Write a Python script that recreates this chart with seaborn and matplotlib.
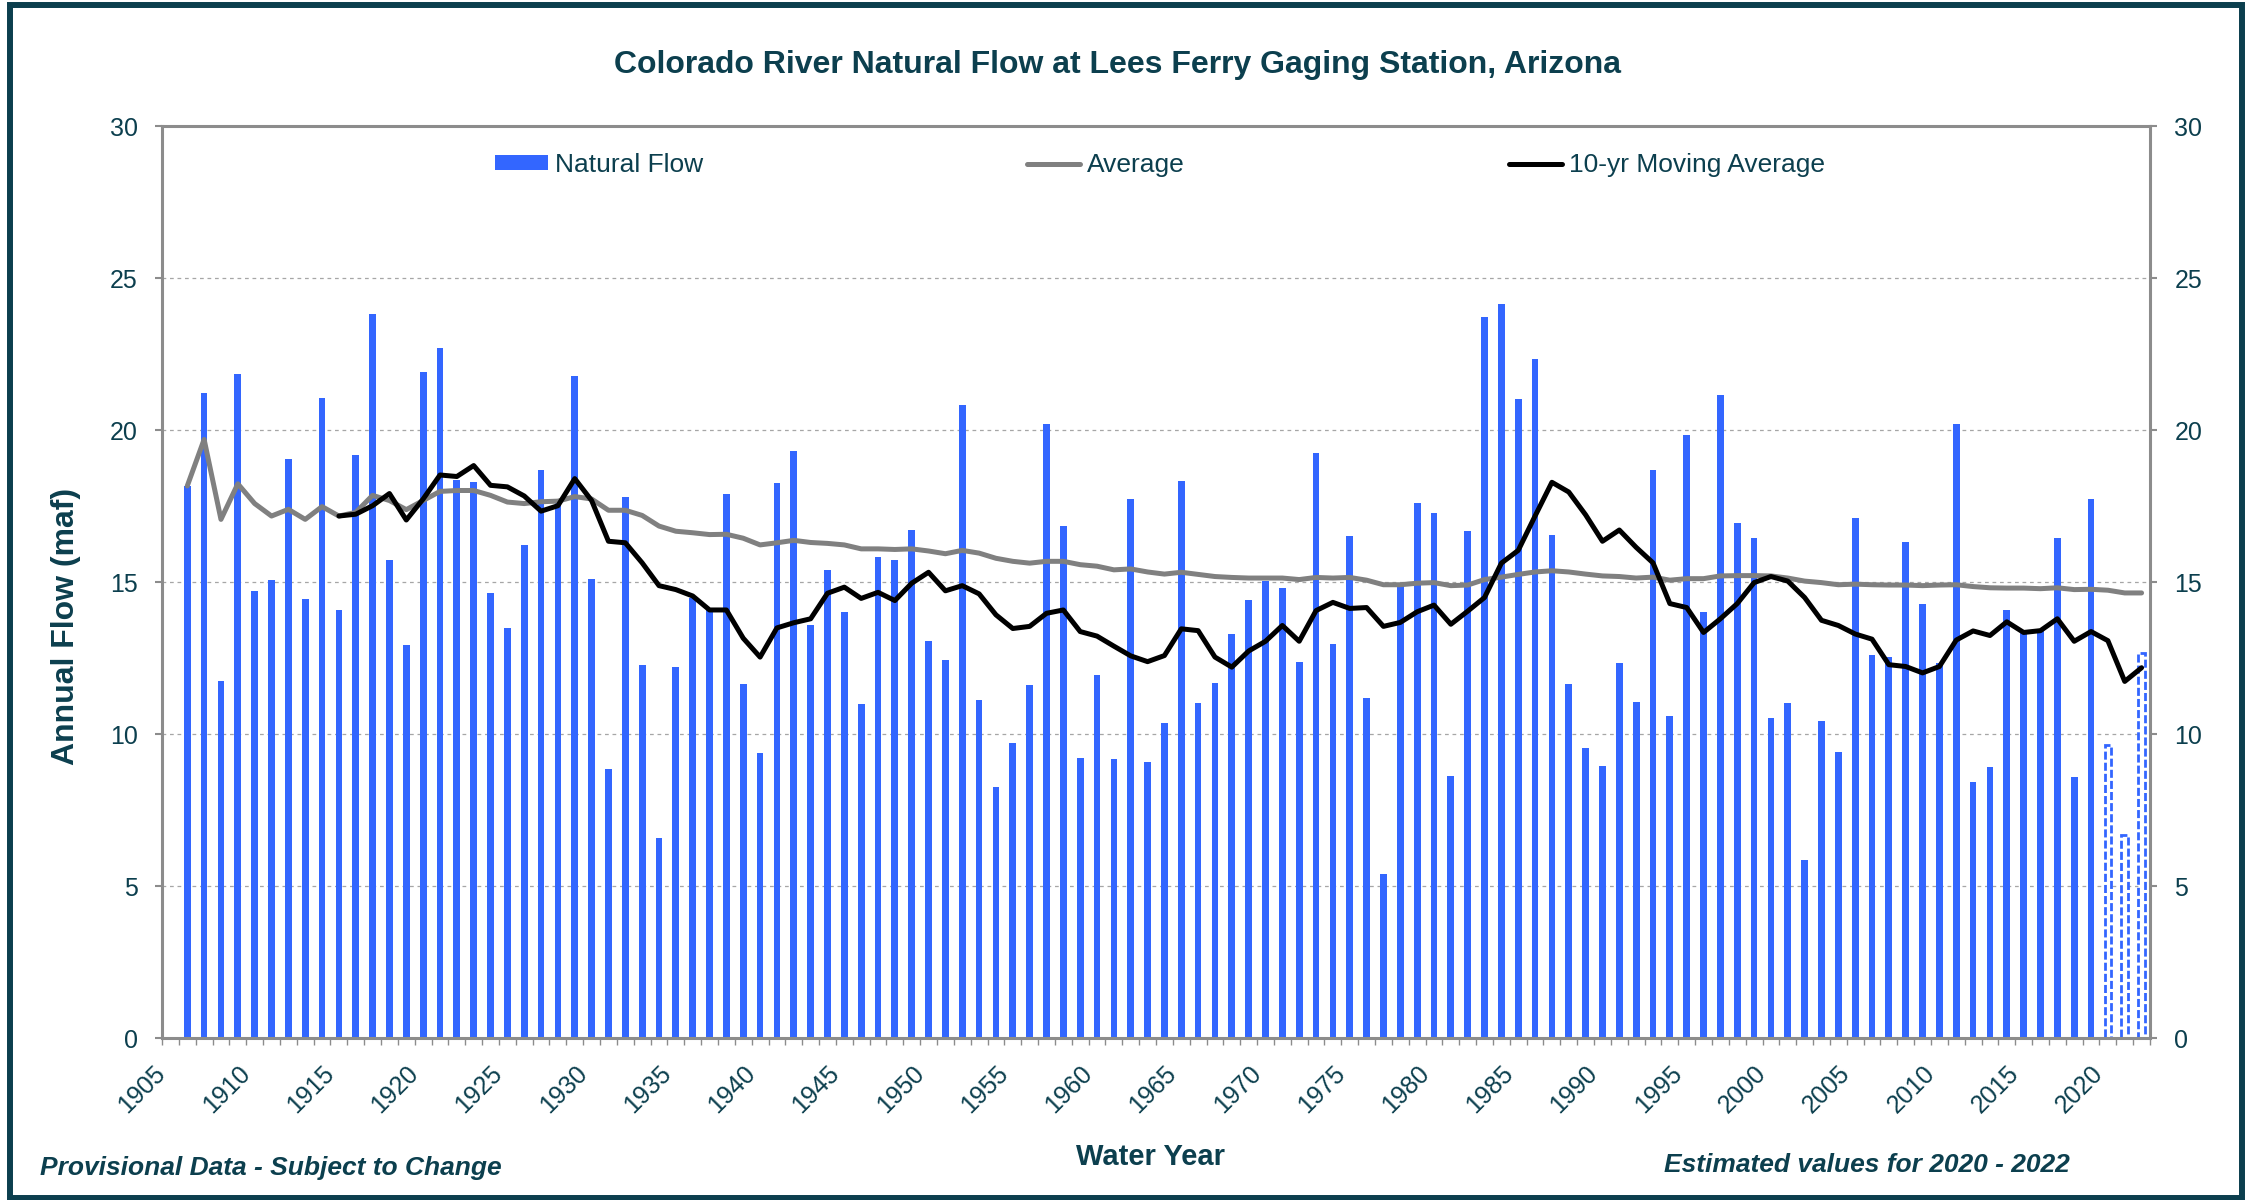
import numpy as np
import pandas as pd
import seaborn as sns
import matplotlib.pyplot as plt
from matplotlib.patches import Rectangle, Patch
from matplotlib.lines import Line2D
from matplotlib.ticker import FixedLocator

# annual natural flow (maf), water years 1906-2022
years = list(range(1906, 2023))
natural_flow = [
    18.16, 21.21, 11.73, 21.83, 14.71, 15.08, 19.05, 14.44, 21.05, 14.09,  # 1906-1915
    19.17, 23.83, 15.72, 12.94, 21.90, 22.69, 18.35, 18.30, 14.63, 13.49,  # 1916-1925
    16.22, 18.67, 17.73, 21.78, 15.10, 8.85, 17.78, 12.28, 6.57, 12.22,    # 1926-1935
    14.49, 14.07, 17.90, 11.66, 9.38, 18.25, 19.30, 13.59, 15.40, 14.01,   # 1936-1945
    10.98, 15.82, 15.73, 16.71, 13.07, 12.42, 20.83, 11.13, 8.26, 9.69,    # 1946-1955
    11.60, 20.19, 16.84, 9.20, 11.95, 9.17, 17.73, 9.08, 10.36, 18.31,     # 1956-1965
    11.03, 11.68, 13.30, 14.41, 15.03, 14.81, 12.37, 19.24, 12.95, 16.52,  # 1966-1975
    11.18, 5.41, 14.90, 17.59, 17.26, 8.61, 16.69, 23.71, 24.16, 21.03,    # 1976-1985
    22.34, 16.56, 11.63, 9.53, 8.95, 12.32, 11.04, 18.67, 10.59, 19.84,    # 1986-1995
    14.01, 21.16, 16.94, 16.44, 10.52, 11.01, 5.85, 10.44, 9.42, 17.11,    # 1996-2005
    12.60, 12.53, 16.30, 14.29, 12.33, 20.21, 8.41, 8.93, 14.09, 13.32,    # 2006-2015
    13.40, 16.45, 8.58, 17.74, 9.63, 6.67, 12.67,                          # 2016-2022
]
average = [
    18.16, 19.69, 17.06, 18.23, 17.58, 17.17, 17.39, 17.06, 17.48, 17.17,
    17.29, 17.85, 17.68, 17.38, 17.68, 17.98, 18.01, 18.01, 17.85, 17.63,
    17.58, 17.64, 17.66, 17.81, 17.73, 17.36, 17.36, 17.19, 16.84, 16.67,
    16.62, 16.56, 16.57, 16.44, 16.22, 16.29, 16.37, 16.30, 16.27, 16.22,
    16.09, 16.09, 16.07, 16.09, 16.02, 15.93, 16.04, 15.95, 15.78, 15.68,
    15.62, 15.68, 15.68, 15.57, 15.52, 15.40, 15.43, 15.33, 15.26, 15.32,
    15.25, 15.18, 15.15, 15.13, 15.13, 15.13, 15.08, 15.15, 15.13, 15.15,
    15.06, 14.91, 14.91, 14.96, 14.98, 14.88, 14.90, 15.08, 15.16, 15.25,
    15.33, 15.37, 15.33, 15.26, 15.20, 15.18, 15.13, 15.16, 15.06, 15.11,
    15.11, 15.20, 15.21, 15.21, 15.20, 15.13, 15.03, 14.98, 14.91, 14.93,
    14.91, 14.90, 14.90, 14.88, 14.90, 14.91, 14.85, 14.81, 14.80, 14.80,
    14.78, 14.81, 14.75, 14.76, 14.73, 14.64, 14.64,
]
moving_years = list(range(1915, 2023))
moving_avg = [
    17.17, 17.23, 17.51, 17.91, 17.04, 17.73, 18.52, 18.47, 18.83, 18.18,  # 1915-1924
    18.13, 17.83, 17.33, 17.51, 18.40, 17.68, 16.34, 16.29, 15.63, 14.88,
    14.75, 14.54, 14.08, 14.08, 13.15, 12.53, 13.49, 13.66, 13.79, 14.63,
    14.83, 14.46, 14.66, 14.39, 14.96, 15.32, 14.71, 14.88, 14.61, 13.92,
    13.47, 13.54, 13.97, 14.08, 13.37, 13.22, 12.89, 12.57, 12.38, 12.58,
    13.46, 13.40, 12.53, 12.20, 12.73, 13.05, 13.57, 13.05, 14.06, 14.33,
    14.13, 14.16, 13.54, 13.67, 14.02, 14.24, 13.61, 14.04, 14.49, 15.62,
    16.04, 17.17, 18.28, 17.96, 17.21, 16.34, 16.71, 16.14, 15.63, 14.29,
    14.16, 13.34, 13.79, 14.29, 14.98, 15.18, 15.03, 14.49, 13.74, 13.57,
    13.29, 13.12, 12.28, 12.22, 12.01, 12.22, 13.09, 13.39, 13.24, 13.69,
    13.34, 13.40, 13.79, 13.05, 13.37, 13.07, 11.73, 12.18,                # 2015-2022
]
estimated_years = [2020, 2021, 2022]
tick_years = list(range(1905, 2021, 5))

TEAL = '#0c3f4e'
BLUE = '#3366ff'
AXIS = '#8c8c8c'
GRID = '#a6a6a6'
W, H = 2246, 1200
LW = 3.6

sns.set_theme(style='white')
plt.rcParams['font.family'] = ['Liberation Sans', 'DejaVu Sans']

df = pd.DataFrame({'year': years, 'flow': natural_flow, 'avg': average})
measured = df[~df['year'].isin(estimated_years)]
estimated = df[df['year'].isin(estimated_years)]
ma = pd.DataFrame({'year': moving_years, 'ma': moving_avg})

fig = plt.figure(figsize=(W / 100, H / 100), dpi=100)
ax = fig.add_axes([162 / W, 1 - 1038 / H, (2150 - 162) / W, (1038 - 126) / H])
ax.set_axisbelow(True)

sns.barplot(data=measured, x='year', y='flow', native_scale=True, width=0.4,
            color=BLUE, saturation=1, errorbar=None, linewidth=0, ax=ax)
sns.barplot(data=estimated, x='year', y='flow', native_scale=True, width=0.4,
            color='white', saturation=1, errorbar=None, edgecolor=BLUE,
            linewidth=2, linestyle=(0, (2.9, 1.1)), ax=ax)
sns.lineplot(data=df, x='year', y='avg', color='#808080', linewidth=LW,
             solid_joinstyle='round', ax=ax)
sns.lineplot(data=ma, x='year', y='ma', color='black', linewidth=LW,
             solid_joinstyle='round', ax=ax)

ax.set_xlim(1904.5, 2022.5)
ax.set_ylim(0, 30)
ax.set_yticks(range(0, 31, 5))
ax.yaxis.grid(True, color=GRID, linestyle=(0, (3, 3)), linewidth=0.9)
ax.xaxis.grid(False)
ax.set_xlabel('')
ax.set_ylabel('')

ax.set_xticks(tick_years)
ax.set_xticklabels([str(y) for y in tick_years], rotation=45, ha='right', va='top')
ax.xaxis.set_minor_locator(FixedLocator(np.arange(1904.5, 2023, 1)))
ax.tick_params(axis='x', which='major', bottom=True, length=0, pad=16.5,
               labelsize=18, labelcolor=TEAL)
ax.tick_params(axis='x', which='minor', bottom=True, length=5, width=1,
               color=AXIS, direction='out')
ax.tick_params(axis='y', which='major', left=True, right=True, labelleft=True,
               labelright=True, length=5, width=1.5, color=AXIS, direction='out',
               labelsize=18, labelcolor=TEAL, pad=12.5)

for s in ax.spines.values():
    s.set_visible(True)
    s.set_color(AXIS)
    s.set_linewidth(2.2)

handles = [
    Patch(facecolor=BLUE, edgecolor='none'),
    Line2D([], [], color='#808080', linewidth=LW),
    Line2D([], [], color='black', linewidth=LW),
]
ax.legend(handles, ['Natural Flow', 'Average', '10-yr Moving Average'],
          loc='center', bbox_to_anchor=(0.502, 0.957), ncol=3, frameon=False,
          fontsize=19, handlelength=2.0, handleheight=0.5, handletextpad=0.25,
          columnspacing=12.3, labelcolor=TEAL)

fig.text(1117 / W, 1 - 72.7 / H,
         'Colorado River Natural Flow at Lees Ferry Gaging Station, Arizona',
         ha='center', va='baseline', fontsize=23, fontweight='bold', color=TEAL)
fig.text(66 / W, 1 - 626 / H, 'Annual Flow (maf)', rotation=90, ha='center',
         va='center', fontsize=23, fontweight='bold', color=TEAL)
fig.text(1151 / W, 1 - 1165 / H, 'Water Year', ha='center', va='baseline',
         fontsize=21, fontweight='bold', color=TEAL)
fig.text(40 / W, 1 - 1175 / H, 'Provisional Data - Subject to Change', ha='left',
         va='baseline', fontsize=19, fontweight='bold', fontstyle='italic', color=TEAL)
fig.text(2070 / W, 1 - 1172 / H, 'Estimated values for 2020 - 2022', ha='right',
         va='baseline', fontsize=19, fontweight='bold', fontstyle='italic', color=TEAL)

# outer frame
fig.patches.append(Rectangle((10 / W, 2 / H), (2242 - 10) / W, (1195 - 2) / H,
                             transform=fig.transFigure, fill=False,
                             edgecolor=TEAL, linewidth=4.3))

fig.savefig('out.png', dpi=100)
